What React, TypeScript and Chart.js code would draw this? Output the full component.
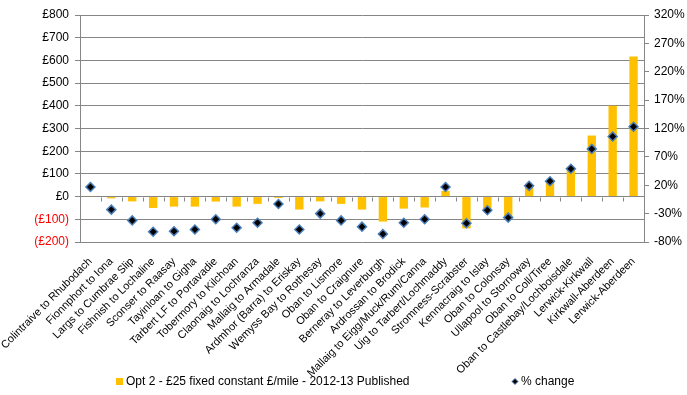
import React, { useEffect, useRef } from "react";
import { Chart, registerables } from "chart.js";

Chart.register(...registerables);

const categories: string[] = [
  "Colintraive to Rhubodach",
  "Fionnphort to Iona",
  "Largs to Cumbrae Slip",
  "Fishnish to Lochaline",
  "Sconser to Raasay",
  "Tayinloan to Gigha",
  "Tarbert LF to Portavadie",
  "Tobermory to Kilchoan",
  "Claonaig to Lochranza",
  "Mallaig to Armadale",
  "Ardmhor (Barra) to Eriskay",
  "Wemyss Bay to Rothesay",
  "Oban to Lismore",
  "Oban to Craignure",
  "Berneray to Leverburgh",
  "Ardrossan to Brodick",
  "Mallaig to Eigg/Muck/Rum/Canna",
  "Uig to Tarbert/Lochmaddy",
  "Stromness-Scrabster",
  "Kennacraig to Islay",
  "Oban to Colonsay",
  "Ullapool to Stornoway",
  "Oban to Coll/Tiree",
  "Oban to Castlebay/Lochboisdale",
  "Lerwick-Kirkwall",
  "Kirkwall-Aberdeen",
  "Lerwick-Aberdeen",
];

const changePounds: number[] = [
  3, -8, -21, -50, -44, -44, -22, -44, -32, -6, -57, -21, -32, -57, -110, -53, -48, 25,
  -140, -54, -86, 50, 65, 130, 269, 400, 617,
];

const changePercent: number[] = [
  17, -23, -42, -62, -61, -58, -40, -55, -46, -13, -58, -30, -42, -53, -66, -46, -40, 17,
  -47, -24, -37, 19, 27, 49, 84, 106, 123,
];

const barLabel = "Opt 2 - £25 fixed constant £/mile - 2012-13 Published";
const pointLabel = "% change";

const FONT = "'Liberation Sans', Arial, sans-serif";

const extrasPlugin = {
  id: "extras",
  beforeDatasetsDraw(chart: any) {
    const { ctx, scales } = chart;
    const x = scales.x;
    const y = scales.y;
    const y0 = Math.round(y.getPixelForValue(0)) + 0.5;
    ctx.save();
    ctx.strokeStyle = "#868686";
    ctx.lineWidth = 1;
    ctx.beginPath();
    const n = categories.length;
    for (let i = 1; i < n; i++) {
      const px = Math.round((x.getPixelForValue(i - 1) + x.getPixelForValue(i)) / 2) + 0.5;
      ctx.moveTo(px, y0);
      ctx.lineTo(px, y0 + 4);
    }
    ctx.stroke();
    ctx.restore();
  },
  afterDraw(chart: any) {
    const { ctx } = chart;
    ctx.save();
    ctx.font = `12px ${FONT}`;
    ctx.textBaseline = "middle";
    ctx.fillStyle = "#FFC000";
    ctx.fillRect(116, 378, 7, 7);
    ctx.fillStyle = "#000";
    ctx.fillText(barLabel, 126, 381.5);
    // diamond
    ctx.beginPath();
    ctx.moveTo(515, 378.5);
    ctx.lineTo(518, 381.5);
    ctx.lineTo(515, 384.5);
    ctx.lineTo(512, 381.5);
    ctx.closePath();
    ctx.fillStyle = "#000";
    ctx.fill();
    ctx.strokeStyle = "#4A7EBB";
    ctx.lineWidth = 1;
    ctx.stroke();
    ctx.fillStyle = "#000";
    ctx.fillText(pointLabel, 521, 381.5);
    ctx.restore();
  },
};

export default function App() {
  const ref = useRef<HTMLCanvasElement | null>(null);
  useEffect(() => {
    document.body.style.margin = "0";
    Chart.defaults.font.family = FONT;
    const chart = new Chart(ref.current as HTMLCanvasElement, {
      data: {
        labels: categories,
        datasets: [
          {
            type: "line",
            label: pointLabel,
            data: changePercent,
            yAxisID: "y1",
            showLine: false,
            pointStyle: "rectRot",
            pointRadius: 4.5,
            pointBackgroundColor: "#000000",
            pointBorderColor: "#4A7EBB",
            pointBorderWidth: 1.5,
            order: 0,
          } as any,
          {
            type: "bar",
            label: barLabel,
            data: changePounds,
            yAxisID: "y",
            backgroundColor: "#FFC000",
            categoryPercentage: 1,
            barPercentage: 0.4,
            order: 1,
          } as any,
        ],
      },
      options: {
        animation: false,
        responsive: false,
        maintainAspectRatio: false,
        layout: { padding: { top: 15, bottom: 0, left: 0, right: 0 } },
        plugins: {
          legend: { display: false },
          tooltip: { enabled: false },
        },
        scales: {
          x: {
            type: "category",
            grid: { display: false },
            border: { display: false },
            ticks: {
              autoSkip: false,
              maxRotation: 45,
              minRotation: 45,
              padding: 5,
              color: "#000",
              font: { size: 11, family: FONT },
            },
            afterFit: (s: any) => {
              s.height = 153;
              s.paddingLeft = 0;
              s.paddingRight = 0;
            },
          },
          y: {
            position: "left",
            min: -200,
            max: 800,
            ticks: {
              stepSize: 100,
              padding: 6,
              color: (c: any) => (c.tick && c.tick.value < 0 ? "#FF0000" : "#000000"),
              font: { size: 12, family: FONT },
              callback: (v: any) => (v < 0 ? `(£${-v})` : `£${v}`),
            },
            grid: { color: "#868686", lineWidth: 1, tickLength: 5, drawTicks: true },
            border: { display: true, color: "#868686" },
            afterFit: (s: any) => {
              s.width = 80;
              s.paddingTop = 0;
              s.paddingBottom = 0;
            },
          },
          y1: {
            position: "right",
            min: -80,
            max: 320,
            ticks: {
              stepSize: 50,
              padding: 5,
              color: "#000",
              font: { size: 12, family: FONT },
              callback: (v: any) => `${v}%`,
            },
            grid: { drawOnChartArea: false, color: "#868686", tickLength: 5, drawTicks: true },
            border: { display: true, color: "#868686" },
            afterFit: (s: any) => {
              s.width = 43;
              s.paddingTop = 0;
              s.paddingBottom = 0;
            },
          },
        },
      },
      plugins: [extrasPlugin],
    } as any);
    return () => chart.destroy();
  }, []);
  return (
    <div style={{ width: 687, height: 395, background: "#fff" }}>
      <canvas ref={ref} width={687} height={395} style={{ width: 687, height: 395, display: "block" }} />
    </div>
  );
}
